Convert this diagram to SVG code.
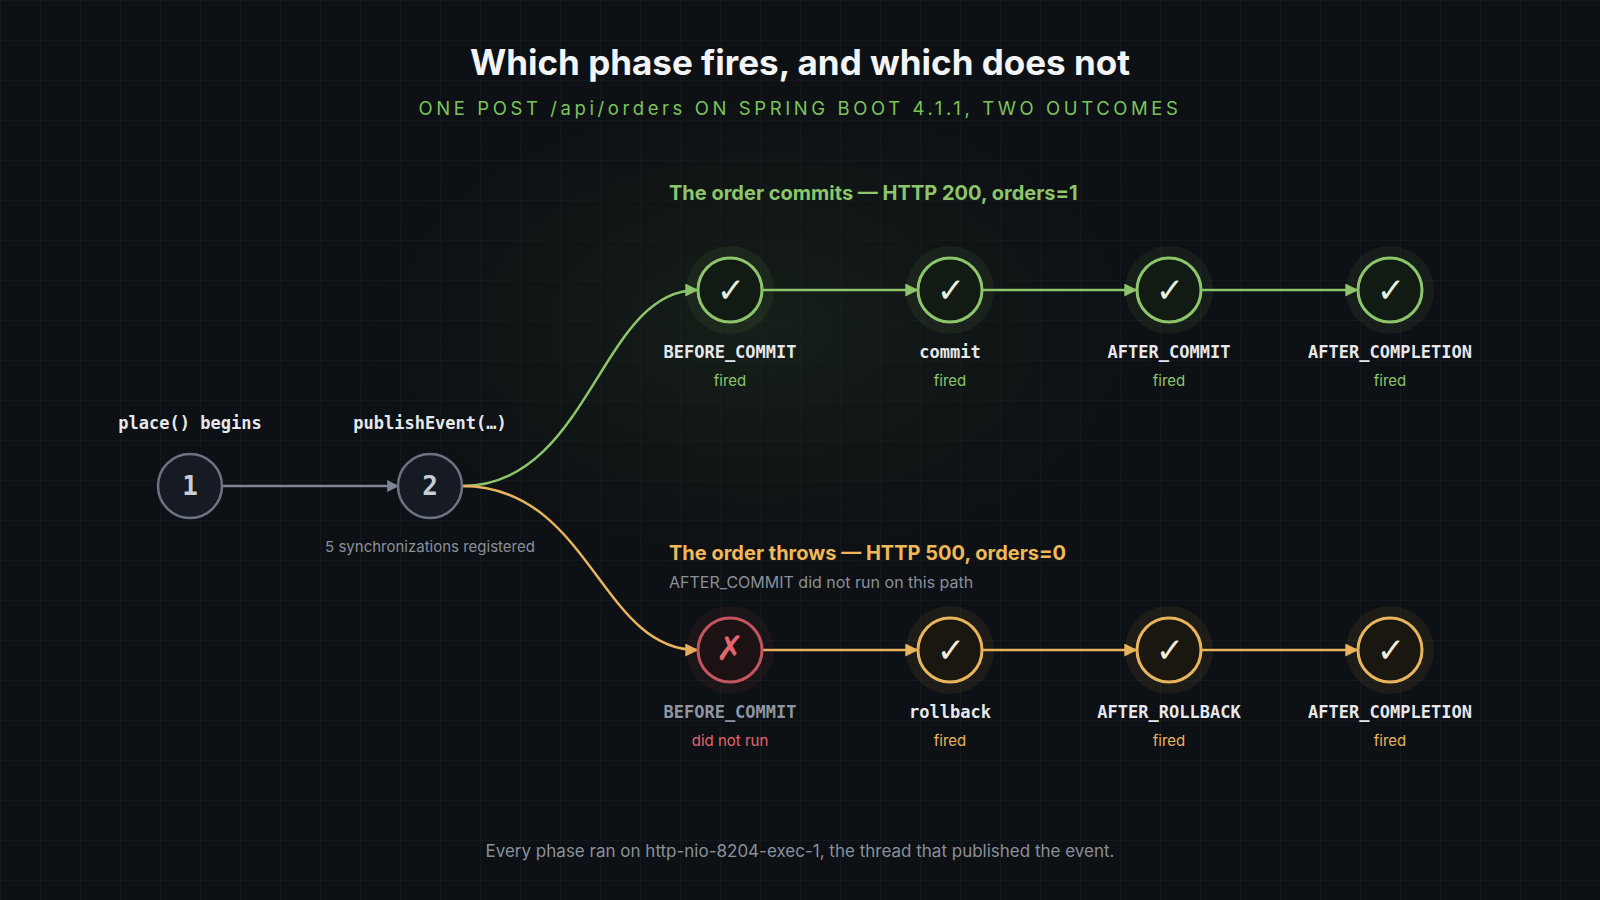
<svg xmlns="http://www.w3.org/2000/svg" width="1600" height="900" viewBox="0 0 1600 900">
<defs>
<pattern id="grid" width="40" height="40" patternUnits="userSpaceOnUse"><path d="M40 0H0V40" fill="none" stroke="#1a1f26" stroke-width="1"/></pattern>
<radialGradient id="glow" cx="0.5" cy="0.45" r="0.5"><stop offset="0" stop-color="#1c2a1c" stop-opacity="0.6"/><stop offset="1" stop-color="#0d1014" stop-opacity="0"/></radialGradient>
<marker id="aG" viewBox="0 0 10 10" refX="9" refY="5" markerWidth="13" markerHeight="13" markerUnits="userSpaceOnUse" orient="auto"><path d="M0 0L10 5L0 10z" fill="#8dc56b"/></marker>
<marker id="aO" viewBox="0 0 10 10" refX="9" refY="5" markerWidth="13" markerHeight="13" markerUnits="userSpaceOnUse" orient="auto"><path d="M0 0L10 5L0 10z" fill="#e8b45c"/></marker>
<marker id="aS" viewBox="0 0 10 10" refX="9" refY="5" markerWidth="12" markerHeight="12" markerUnits="userSpaceOnUse" orient="auto"><path d="M0 0L10 5L0 10z" fill="#7d8594"/></marker>
</defs>
<style>
.sans{font-family:"Inter","Liberation Sans",sans-serif}
.mono{font-family:"DejaVu Sans Mono","Liberation Mono",monospace;font-weight:bold;font-size:17px;fill:#e6e8eb;text-anchor:middle}
.num{font-family:"DejaVu Sans Mono","Liberation Mono",monospace;font-weight:bold;font-size:26px;fill:#c9ced6;text-anchor:middle}
.sub{font-family:"Inter","Liberation Sans",sans-serif;font-size:15px;text-anchor:middle}
.g{fill:#8dc56b}.o{fill:#e8b45c}.r{fill:#e26670}
.nG{fill:#121a14;stroke:#8dc56b;stroke-width:3}
.nO{fill:#1a1610;stroke:#e8b45c;stroke-width:3}
.nR{fill:#1c1214;stroke:#c4555e;stroke-width:3}
.nS{fill:#161a22;stroke:#6c7483;stroke-width:2.5}
.hG{fill:#8dc56b;opacity:0.08}.hO{fill:#e8b45c;opacity:0.08}.hR{fill:#c4555e;opacity:0.08}
.mk{font-family:"DejaVu Sans",sans-serif;font-size:34px;text-anchor:middle;font-weight:bold}
.ck{fill:none;stroke-width:4;stroke-linecap:round;stroke-linejoin:round}
</style>
<rect width="1600" height="900" fill="#0d1014"/>
<rect width="1600" height="900" fill="url(#grid)"/>
<ellipse cx="760" cy="360" rx="520" ry="320" fill="url(#glow)"/>
<text x="800" y="75" class="sans" font-size="35" font-weight="bold" fill="#f2f4f6" text-anchor="middle">Which phase fires, and which does not</text>
<text x="800" y="115" class="sans" font-size="18.5" fill="#7cc45a" text-anchor="middle" letter-spacing="3.6">ONE POST /api/orders ON SPRING BOOT 4.1.1, TWO OUTCOMES</text>
<text x="669" y="200" class="sans" font-size="20" font-weight="bold" fill="#8dc56b">The order commits — HTTP 200, orders=1</text>
<text x="669" y="560" class="sans" font-size="20" font-weight="bold" fill="#f0b85a">The order throws — HTTP 500, orders=0</text>
<text x="669" y="588" class="sans" font-size="16" fill="#8a909a">AFTER_COMMIT did not run on this path</text>
<text x="800" y="857" class="sans" font-size="17" fill="#8a909a" text-anchor="middle">Every phase ran on http-nio-8204-exec-1, the thread that published the event.</text>
<g id="connectors" fill="none" stroke-width="2.5">
<path d="M222 486H398" stroke="#7d8594" marker-end="url(#aS)"/>
<path d="M462 486C590 486 600 290 697 290" stroke="#8dc56b" marker-end="url(#aG)"/>
<path d="M462 486C590 486 600 650 697 650" stroke="#e8b45c" marker-end="url(#aO)"/>
<path d="M762 290H917" stroke="#8dc56b" marker-end="url(#aG)"/>
<path d="M982 290H1136" stroke="#8dc56b" marker-end="url(#aG)"/>
<path d="M1201 290H1357" stroke="#8dc56b" marker-end="url(#aG)"/>
<path d="M762 650H917" stroke="#e8b45c" marker-end="url(#aO)"/>
<path d="M982 650H1136" stroke="#e8b45c" marker-end="url(#aO)"/>
<path d="M1201 650H1357" stroke="#e8b45c" marker-end="url(#aO)"/>
</g>
<g id="n1"><circle cx="190" cy="486" r="32" class="nS"/><text x="190" y="495" class="num">1</text><text x="190" y="429" class="mono">place() begins</text></g>
<g id="n2"><circle cx="430" cy="486" r="32" class="nS"/><text x="430" y="495" class="num">2</text><text x="430" y="429" class="mono">publishEvent(…)</text><text x="430" y="552" class="sub" fill="#8a909a">5 synchronizations registered</text></g>
<g id="t1"><circle cx="730" cy="290" r="44" class="hG"/><circle cx="730" cy="290" r="32" class="nG"/><text x="731" y="302" class="mk" fill="#e8f0e0">✓</text><text x="730" y="358" class="mono">BEFORE_COMMIT</text><text x="730" y="386" class="sub g">fired</text></g>
<g id="t2"><circle cx="950" cy="290" r="44" class="hG"/><circle cx="950" cy="290" r="32" class="nG"/><text x="951" y="302" class="mk" fill="#e8f0e0">✓</text><text x="950" y="358" class="mono">commit</text><text x="950" y="386" class="sub g">fired</text></g>
<g id="t3"><circle cx="1169" cy="290" r="44" class="hG"/><circle cx="1169" cy="290" r="32" class="nG"/><text x="1170" y="302" class="mk" fill="#e8f0e0">✓</text><text x="1169" y="358" class="mono">AFTER_COMMIT</text><text x="1169" y="386" class="sub g">fired</text></g>
<g id="t4"><circle cx="1390" cy="290" r="44" class="hG"/><circle cx="1390" cy="290" r="32" class="nG"/><text x="1391" y="302" class="mk" fill="#e8f0e0">✓</text><text x="1390" y="358" class="mono">AFTER_COMPLETION</text><text x="1390" y="386" class="sub g">fired</text></g>
<g id="b1"><circle cx="730" cy="650" r="44" class="hR"/><circle cx="730" cy="650" r="32" class="nR"/><text x="730" y="660" class="mk r" font-size="26">✗</text><text x="730" y="718" class="mono" style="fill:#8f96a3">BEFORE_COMMIT</text><text x="730" y="746" class="sub r">did not run</text></g>
<g id="b2"><circle cx="950" cy="650" r="44" class="hO"/><circle cx="950" cy="650" r="32" class="nO"/><text x="951" y="662" class="mk" fill="#f5ecdc">✓</text><text x="950" y="718" class="mono">rollback</text><text x="950" y="746" class="sub o">fired</text></g>
<g id="b3"><circle cx="1169" cy="650" r="44" class="hO"/><circle cx="1169" cy="650" r="32" class="nO"/><text x="1170" y="662" class="mk" fill="#f5ecdc">✓</text><text x="1169" y="718" class="mono">AFTER_ROLLBACK</text><text x="1169" y="746" class="sub o">fired</text></g>
<g id="b4"><circle cx="1390" cy="650" r="44" class="hO"/><circle cx="1390" cy="650" r="32" class="nO"/><text x="1391" y="662" class="mk" fill="#f5ecdc">✓</text><text x="1390" y="718" class="mono">AFTER_COMPLETION</text><text x="1390" y="746" class="sub o">fired</text></g>
</svg>
